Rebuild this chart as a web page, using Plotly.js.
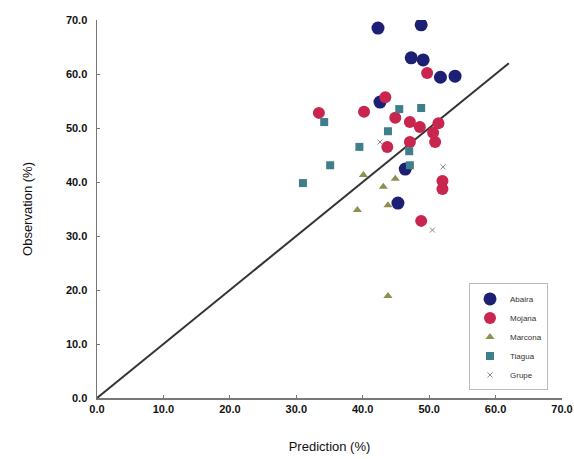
<!DOCTYPE html>
<html><head><meta charset="utf-8">
<script src="https://cdn.plot.ly/plotly-3.0.1.min.js"></script>
<style>body{margin:0;background:#fff}#c{width:574px;height:459px}</style>
</head><body><div id="c"></div>
<script>
const abairaX = [42.3, 48.8, 47.3, 49.1, 51.7, 53.9, 42.6, 46.4, 45.3];
const abairaY = [68.5, 69.1, 63.0, 62.6, 59.4, 59.6, 54.8, 42.4, 36.1];
const mojanaX = [33.4, 40.2, 43.4, 44.9, 47.1, 48.6, 51.4, 50.6, 50.9, 47.1, 43.7, 52.0, 52.0, 49.7, 48.8];
const mojanaY = [52.8, 53.0, 55.7, 51.9, 51.1, 50.2, 50.9, 49.1, 47.4, 47.4, 46.5, 40.2, 38.7, 60.2, 32.8];
const marconaX = [40.1, 44.9, 43.1, 39.2, 43.8, 43.8];
const marconaY = [41.3, 40.6, 39.1, 34.8, 35.7, 18.9];
const tiaguaX = [34.2, 45.5, 48.8, 43.8, 39.5, 47.0, 35.1, 31.0, 47.1];
const tiaguaY = [51.1, 53.5, 53.7, 49.4, 46.5, 45.7, 43.1, 39.8, 43.1];
const grupeX = [50.5, 52.1, 42.6];
const grupeY = [31.1, 42.8, 47.4];
const lineX = [0, 62];
const lineY = [0, 62];
const tickVals = [0, 10, 20, 30, 40, 50, 60, 70];
const tickText = ['0.0', '10.0', '20.0', '30.0', '40.0', '50.0', '60.0', '70.0'];
const xTickText = ['0.0', '10.0', '20.0', '30.0', '40.0', '50.0', '60.0', '70.0'];

const traces = [
  {x: lineX, y: lineY, mode: 'lines', line: {color: '#333', width: 2}, showlegend: false, hoverinfo: 'skip'},
  {x: abairaX, y: abairaY, mode: 'markers', name: 'Abaira', marker: {symbol: 'circle', size: 13, color: '#1c1f73'}},
  {x: mojanaX, y: mojanaY, mode: 'markers', name: 'Mojana', marker: {symbol: 'circle', size: 12, color: '#c8264e'}},
  {x: marconaX, y: marconaY, mode: 'markers', name: 'Marcona', marker: {symbol: 'triangle-up', size: 8, color: '#8f8f50'}},
  {x: tiaguaX, y: tiaguaY, mode: 'markers', name: 'Tiagua', marker: {symbol: 'square', size: 8, color: '#3f7f8c'}},
  {x: grupeX, y: grupeY, mode: 'markers', name: 'Grupe', marker: {symbol: 'x-thin', size: 5, color: '#888', line: {color: '#888', width: 1}}}
];

const layout = {
  width: 574, height: 459,
  margin: {l: 97, r: 12, t: 20, b: 61},
  paper_bgcolor: '#fff', plot_bgcolor: '#fff',
  font: {family: 'Liberation Sans, Arial, sans-serif', color: '#111'},
  xaxis: {
    range: [0, 70], tickvals: tickVals, ticktext: xTickText,
    showgrid: false, zeroline: false, showline: true, linecolor: '#777', linewidth: 1.5,
    ticks: 'inside', ticklen: 3, tickcolor: '#777',
    tickfont: {size: 11, family: 'Liberation Sans, Arial', weight: 'bold'},
    title: {text: 'Prediction (%)', font: {size: 13}, standoff: 28}
  },
  yaxis: {
    range: [0, 70], tickvals: tickVals, ticktext: tickText,
    showgrid: false, zeroline: false, showline: true, linecolor: '#777', linewidth: 1.5,
    ticks: 'inside', ticklen: 3, tickcolor: '#777', ticklabelstandoff: 6,
    tickfont: {size: 11, family: 'Liberation Sans, Arial', weight: 'bold'},
    title: {text: 'Observation (%)', font: {size: 13}, standoff: 30}
  },
  legend: {
    x: 0.80, y: 0.02, xanchor: 'left', yanchor: 'bottom',
    bgcolor: '#fff', bordercolor: '#bbb', borderwidth: 1,
    font: {size: 8, color: '#333'}, itemwidth: 30, tracegroupgap: 0
  },
  showlegend: true
};
Plotly.newPlot('c', traces, layout, {displayModeBar: false, staticPlot: true});
</script></body></html>
